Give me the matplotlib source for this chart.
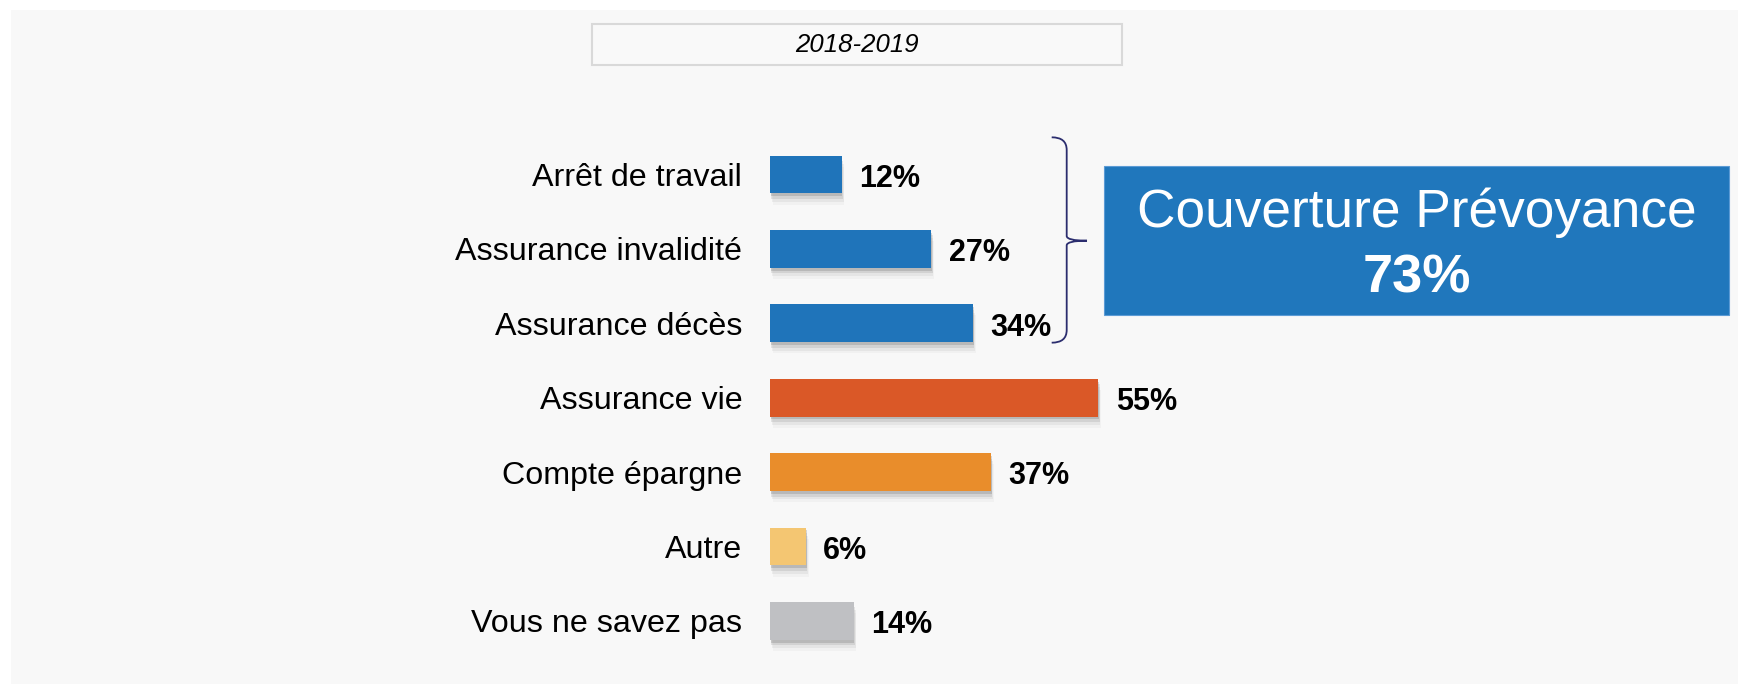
import numpy as np
import matplotlib
matplotlib.use("Agg")
import matplotlib.pyplot as plt
from matplotlib.patches import Rectangle, PathPatch
from matplotlib.path import Path
import matplotlib.patheffects as pe

plt.rcParams['font.family'] = ['Liberation Sans', 'DejaVu Sans']

categories = ["Arrêt de travail", "Assurance invalidité", "Assurance décès",
              "Assurance vie", "Compte épargne", "Autre", "Vous ne savez pas"]
values = [12, 27, 34, 55, 37, 6, 14]
colors = ["#1F74BA", "#1F74BA", "#1F74BA", "#DA5827", "#E98D2B", "#F4C672", "#BFC0C3"]
period = "2018-2019"
box_title = "Couverture Prévoyance"
box_value = "73%"

W, H = 1738, 685
fig = plt.figure(figsize=(W / 100, H / 100), dpi=100, facecolor="white")


def px(x, y):
    # pixel (from top-left) -> figure fraction
    return x / W, 1 - y / H


# light grey panel
fig.add_artist(Rectangle(px(11, 684), (W - 11) / W, 674 / H, transform=fig.transFigure,
                         facecolor="#F8F8F8", edgecolor="none", zorder=0))

# period box
fig.add_artist(Rectangle(px(592, 64.5), 530 / W, 40 / H, transform=fig.transFigure,
                         facecolor="#F9F9F9", edgecolor="#D9D9D9", lw=1.5, zorder=1))
fig.text(*px(857, 45), period, ha="center", va="center", fontsize=18.5, style="italic")

# bars axes
top, step = 174.5 - 74.4 / 2, 74.4
ax_h = step * 7
ax = fig.add_axes([770 / W, 1 - (top + ax_h) / H, 597 / W, ax_h / H])
ax.set_facecolor("none")
y = np.arange(len(categories))
bars = ax.barh(y, values, height=0.51, color=colors, zorder=3)
# soft drop shadow built from a few offset layers
shadow = [pe.SimplePatchShadow(offset=(2, -8), shadow_rgbFace="#909090", alpha=0.06),
          pe.SimplePatchShadow(offset=(1.5, -6), shadow_rgbFace="#808080", alpha=0.10),
          pe.SimplePatchShadow(offset=(1, -4), shadow_rgbFace="#707070", alpha=0.16),
          pe.SimplePatchShadow(offset=(0.5, -2), shadow_rgbFace="#606060", alpha=0.22),
          pe.Normal()]
for b in bars:
    b.set_path_effects(shadow)
for yi, v in zip(y, values):
    ax.annotate(f"{v}%", (v, yi), xytext=(12.5, -8.8), textcoords="offset points",
                ha="left", va="baseline", fontsize=22, fontweight="bold")
ax.set_xlim(0, 100)
ax.set_ylim(len(categories) - 0.5, -0.5)
ax.set_yticks(y)
ax.set_yticklabels(categories, fontsize=23.2)
ax.tick_params(axis="y", length=0, pad=20)
ax.set_xticks([])
for s in ax.spines.values():
    s.set_visible(False)

# brace
bx, tipx = 1066.7, 1087
pts = [(1051.7, 137.3), (bx, 137.3), (bx, 150),
       (bx, 236),
       (bx, 240.7), (tipx, 240.7),
       (bx, 240.7), (bx, 245.4),
       (bx, 330),
       (bx, 342.7), (1051.7, 342.7)]
codes = [Path.MOVETO, Path.CURVE3, Path.CURVE3,
         Path.LINETO,
         Path.CURVE3, Path.CURVE3,
         Path.CURVE3, Path.CURVE3,
         Path.LINETO,
         Path.CURVE3, Path.CURVE3]
brace = Path([px(*p) for p in pts], codes)
fig.add_artist(PathPatch(brace, transform=fig.transFigure, facecolor="none",
                         edgecolor="#2B2D6E", lw=1.3))

# summary box
fig.add_artist(Rectangle(px(1104, 315), 625 / W, 149.3 / H, transform=fig.transFigure,
                         facecolor="#2077BC", edgecolor="#5B9BD5", lw=0.8, zorder=1))
fig.text(*px(1416.5, 227), box_title, ha="center", va="baseline",
         fontsize=38.3, color="white")
fig.text(*px(1416.5, 293), box_value, ha="center", va="baseline",
         fontsize=39, color="white", fontweight="bold")

fig.savefig("out.png", dpi=100, facecolor="white")
